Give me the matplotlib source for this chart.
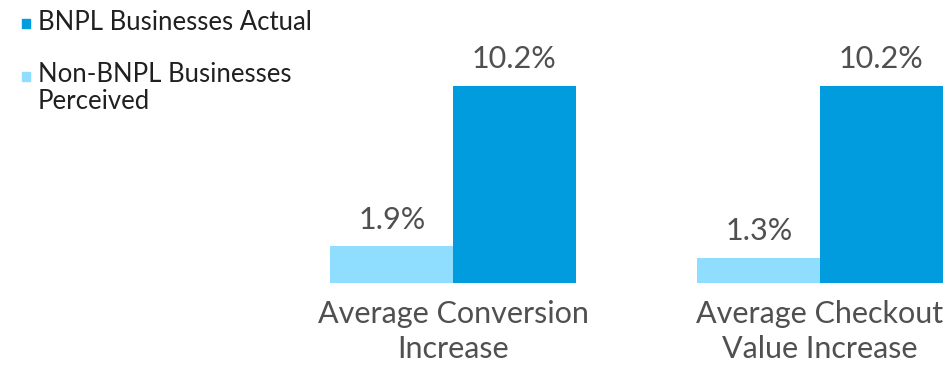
import matplotlib
matplotlib.use("Agg")
import matplotlib.pyplot as plt
from matplotlib.patches import Rectangle
import numpy as np

categories = ["Average Conversion\nIncrease", "Average Checkout\nValue Increase"]
series_names = ["BNPL Businesses Actual", "Non-BNPL Businesses\nPerceived"]
bnpl_actual = [10.2, 10.2]
non_bnpl_perceived = [1.9, 1.3]

dark = "#009CDE"
light = "#8FDDFF"
text_col = "#505050"

plt.rcParams['font.family'] = ['Lato', 'DejaVu Sans']

fig = plt.figure(figsize=(9.53, 3.65), dpi=100)
W, H = 953, 365
# axes spans x 300..953 px, y bottom at 82 px
ax = fig.add_axes([300 / W, 82 / H, 653 / W, 231.8 / H])

x = np.arange(len(categories))
w = 0.334
b1 = ax.bar(x - w / 2, non_bnpl_perceived, w, color=light)
b2 = ax.bar(x + w / 2, bnpl_actual, w, color=dark)

for bars in (b1, b2):
    for r in bars:
        ax.annotate(f"{r.get_height():.1f}%", (r.get_x() + r.get_width() / 2, r.get_height()),
                    xytext=(0, 9), textcoords="offset points", ha="center", va="bottom",
                    fontsize=22, color=text_col)

ax.set_xlim((300 - 453) / 367, 1 + (953 - 820) / 367)
ax.set_ylim(0, 12)
ax.set_xticks(x)
ax.set_xticklabels(categories, fontsize=22, color=text_col, linespacing=1.3)
ax.tick_params(axis="x", length=0, pad=12)
ax.set_yticks([])
for s in ax.spines.values():
    s.set_visible(False)

# legend
fig.patches.append(Rectangle((22 / W, 1 - 28 / H), 8 / W, 9 / H, transform=fig.transFigure,
                             color=dark, figure=fig))
fig.text(38 / W, 1 - 22 / H, series_names[0], fontsize=18.5, color="#202020", va="center")
fig.patches.append(Rectangle((22 / W, 1 - 81 / H), 8 / W, 9 / H, transform=fig.transFigure,
                             color=light, figure=fig))
fig.text(38 / W, 1 - 62 / H, series_names[1], fontsize=18.5, color="#202020", va="top",
         linespacing=1.1)

fig.savefig("out.png", dpi=100)
